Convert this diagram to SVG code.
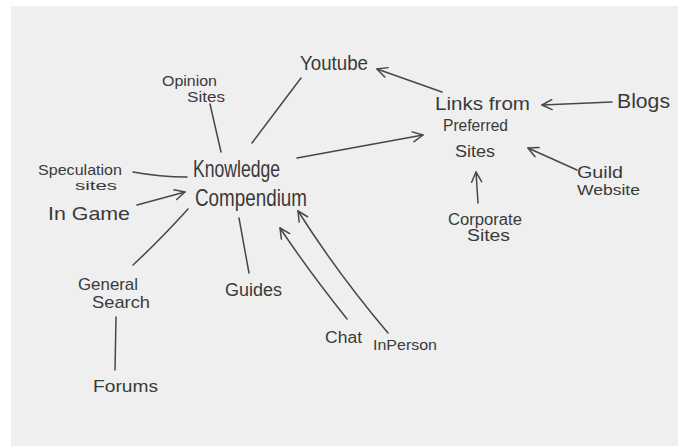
<svg xmlns="http://www.w3.org/2000/svg" width="678" height="446" viewBox="0 0 678 446">
<style>
.t{font-family:"Liberation Sans","DejaVu Sans",sans-serif;fill:#3a3a3a;}
.c{fill:none;stroke:#474747;stroke-width:1.5;stroke-linecap:round;}
</style>
<defs>
<marker id="ah" viewBox="0 0 12 12" refX="11" refY="6" markerWidth="12" markerHeight="12" markerUnits="userSpaceOnUse" orient="auto">
<path d="M1,1 L11,6 L1,11" fill="none" stroke="#474747" stroke-width="1.5" stroke-linecap="round" stroke-linejoin="round"/>
</marker>
</defs>
<rect x="0" y="0" width="678" height="446" fill="#ffffff"/>
<rect x="11" y="6" width="667" height="440" fill="#efefef"/>
<g id="connectors">
<path class="c" d="M297,158 L423,135" marker-end="url(#ah)"/>
<path class="c" d="M442,92 L377,69" marker-end="url(#ah)"/>
<path class="c" d="M612,102 L542,105" marker-end="url(#ah)"/>
<path class="c" d="M577,170 L528,148" marker-end="url(#ah)"/>
<path class="c" d="M478,203 L476,172" marker-end="url(#ah)"/>
<path class="c" d="M137,205 L185,192" marker-end="url(#ah)"/>
<path class="c" d="M347,319 Q308,270 280,228" marker-end="url(#ah)"/>
<path class="c" d="M388,333 Q338,274 298,211" marker-end="url(#ah)"/>
<path class="c" d="M210,104 L221,152"/>
<path class="c" d="M301,78 L252,143"/>
<path class="c" d="M133,172 Q160,177 187,177"/>
<path class="c" d="M188,209 Q160,240 133,265"/>
<path class="c" d="M116,317 L115,370"/>
<path class="c" d="M239,218 L249,273"/>
</g>
<g id="knowledge"><text class="t" x="193" y="177" font-size="24" textLength="87" lengthAdjust="spacingAndGlyphs">Knowledge</text><text class="t" x="195" y="206" font-size="24" textLength="112" lengthAdjust="spacingAndGlyphs">Compendium</text></g>
<g id="youtube"><text class="t" x="300" y="70" font-size="20" textLength="68" lengthAdjust="spacingAndGlyphs">Youtube</text></g>
<g id="opinion"><text class="t" x="162" y="86" font-size="14" textLength="55" lengthAdjust="spacingAndGlyphs">Opinion</text><text class="t" x="187" y="102" font-size="14" textLength="38" lengthAdjust="spacingAndGlyphs">Sites</text></g>
<g id="speculation"><text class="t" x="38" y="175" font-size="15" textLength="84" lengthAdjust="spacingAndGlyphs">Speculation</text><text class="t" x="75" y="190" font-size="13" textLength="42" lengthAdjust="spacingAndGlyphs">sites</text></g>
<g id="ingame"><text class="t" x="48" y="220" font-size="19" textLength="82" lengthAdjust="spacingAndGlyphs">In Game</text></g>
<g id="general"><text class="t" x="78" y="290" font-size="17" textLength="60" lengthAdjust="spacingAndGlyphs">General</text><text class="t" x="92" y="308" font-size="17" textLength="58" lengthAdjust="spacingAndGlyphs">Search</text></g>
<g id="forums"><text class="t" x="93" y="392" font-size="17" textLength="65" lengthAdjust="spacingAndGlyphs">Forums</text></g>
<g id="guides"><text class="t" x="225" y="296" font-size="18" textLength="57" lengthAdjust="spacingAndGlyphs">Guides</text></g>
<g id="chat"><text class="t" x="325" y="343" font-size="16" textLength="37" lengthAdjust="spacingAndGlyphs">Chat</text></g>
<g id="inperson"><text class="t" x="373" y="350" font-size="15" textLength="64" lengthAdjust="spacingAndGlyphs">InPerson</text></g>
<g id="links"><text class="t" x="435" y="110" font-size="18" textLength="95" lengthAdjust="spacingAndGlyphs">Links from</text><text class="t" x="443" y="131" font-size="16" textLength="65" lengthAdjust="spacingAndGlyphs">Preferred</text><text class="t" x="455" y="157" font-size="16" textLength="40" lengthAdjust="spacingAndGlyphs">Sites</text></g>
<g id="blogs"><text class="t" x="617" y="108" font-size="21" textLength="53" lengthAdjust="spacingAndGlyphs">Blogs</text></g>
<g id="guild"><text class="t" x="577" y="178" font-size="17" textLength="46" lengthAdjust="spacingAndGlyphs">Guild</text><text class="t" x="577" y="195" font-size="15" textLength="63" lengthAdjust="spacingAndGlyphs">Website</text></g>
<g id="corporate"><text class="t" x="448" y="225" font-size="16" textLength="74" lengthAdjust="spacingAndGlyphs">Corporate</text><text class="t" x="467" y="241" font-size="16" textLength="43" lengthAdjust="spacingAndGlyphs">Sites</text></g>
</svg>
